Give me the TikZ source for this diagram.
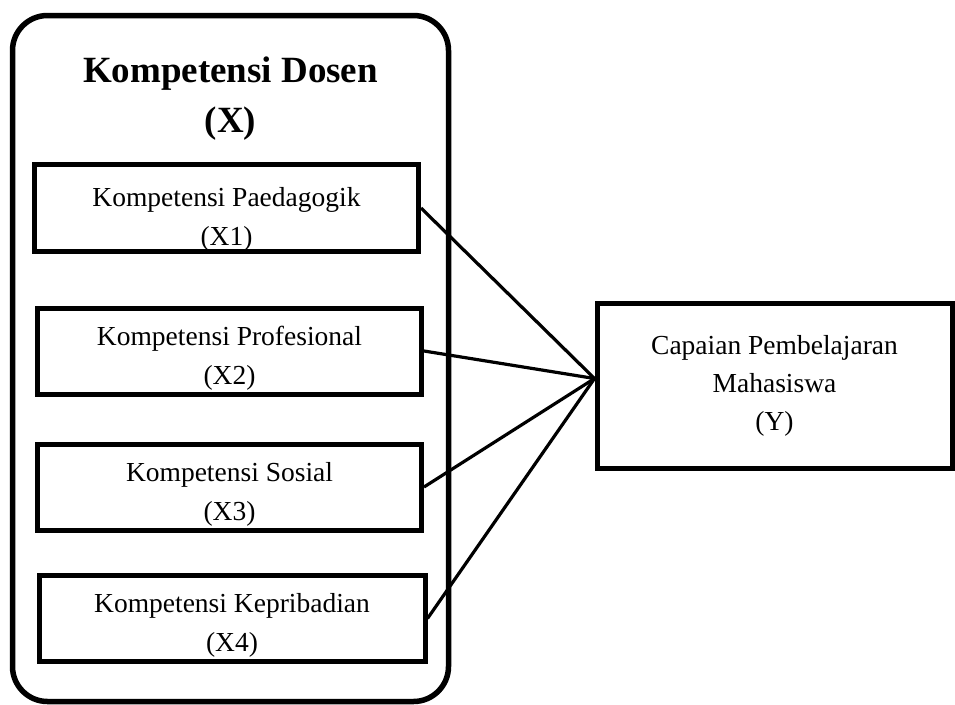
\documentclass[tikz,border=0pt]{standalone}
\usepackage{fontspec}
\setmainfont{Liberation Serif}
\usepackage{tikz}

% two-line label, pushed down a little inside its box
\newcommand{\itemlabel}[3][33pt]{\rule{0pt}{#1}#2\\#3}

\tikzset{
  framebox/.style={draw, line width=5pt, align=center, inner sep=0pt,
    font=\fontsize{27.5}{39}\selectfont},
  itembox/.style={framebox, minimum width=384pt, minimum height=86pt},
  link/.style={line width=3.2pt}
}

\begin{document}
\begin{tikzpicture}[x=1pt, y=-1pt]
\useasboundingbox (0,0) rectangle (955,704);

% Outer group
\node[draw, line width=5.5pt, rounded corners=35pt, minimum width=436pt, minimum height=686pt, inner sep=0pt] (dosen) at (230.5,358.5) {};
\node[align=center, font=\fontsize{37}{50}\selectfont\bfseries] (title) at (230.5,99) {Kompetensi Dosen\\(X)};

% Indicators
\node[itembox] (x1) at (226.5,208) {\itemlabel[42pt]{Kompetensi Paedagogik}{(X1)}};
\node[itembox] (x2) at (229.5,351) {\itemlabel{Kompetensi Profesional}{(X2)}};
\node[itembox] (x3) at (229.5,487) {\itemlabel{Kompetensi Sosial}{(X3)}};
\node[itembox, minimum width=386pt] (x4) at (232,618.5) {\itemlabel{Kompetensi Kepribadian}{(X4)}};

% Outcome
\node[framebox, minimum width=355pt, minimum height=165pt, font=\fontsize{27.5}{38}\selectfont] (y) at (774.5,385.5) {Capaian Pembelajaran\\Mahasiswa\\(Y)};

% Links
\draw[link] (x1.east) -- ([yshift=7pt]y.west);
\draw[link] (x2.east) -- ([yshift=7pt]y.west);
\draw[link] (x3.east) -- ([yshift=7pt]y.west);
\draw[link] (x4.east) -- ([yshift=7pt]y.west);

\end{tikzpicture}
\end{document}
